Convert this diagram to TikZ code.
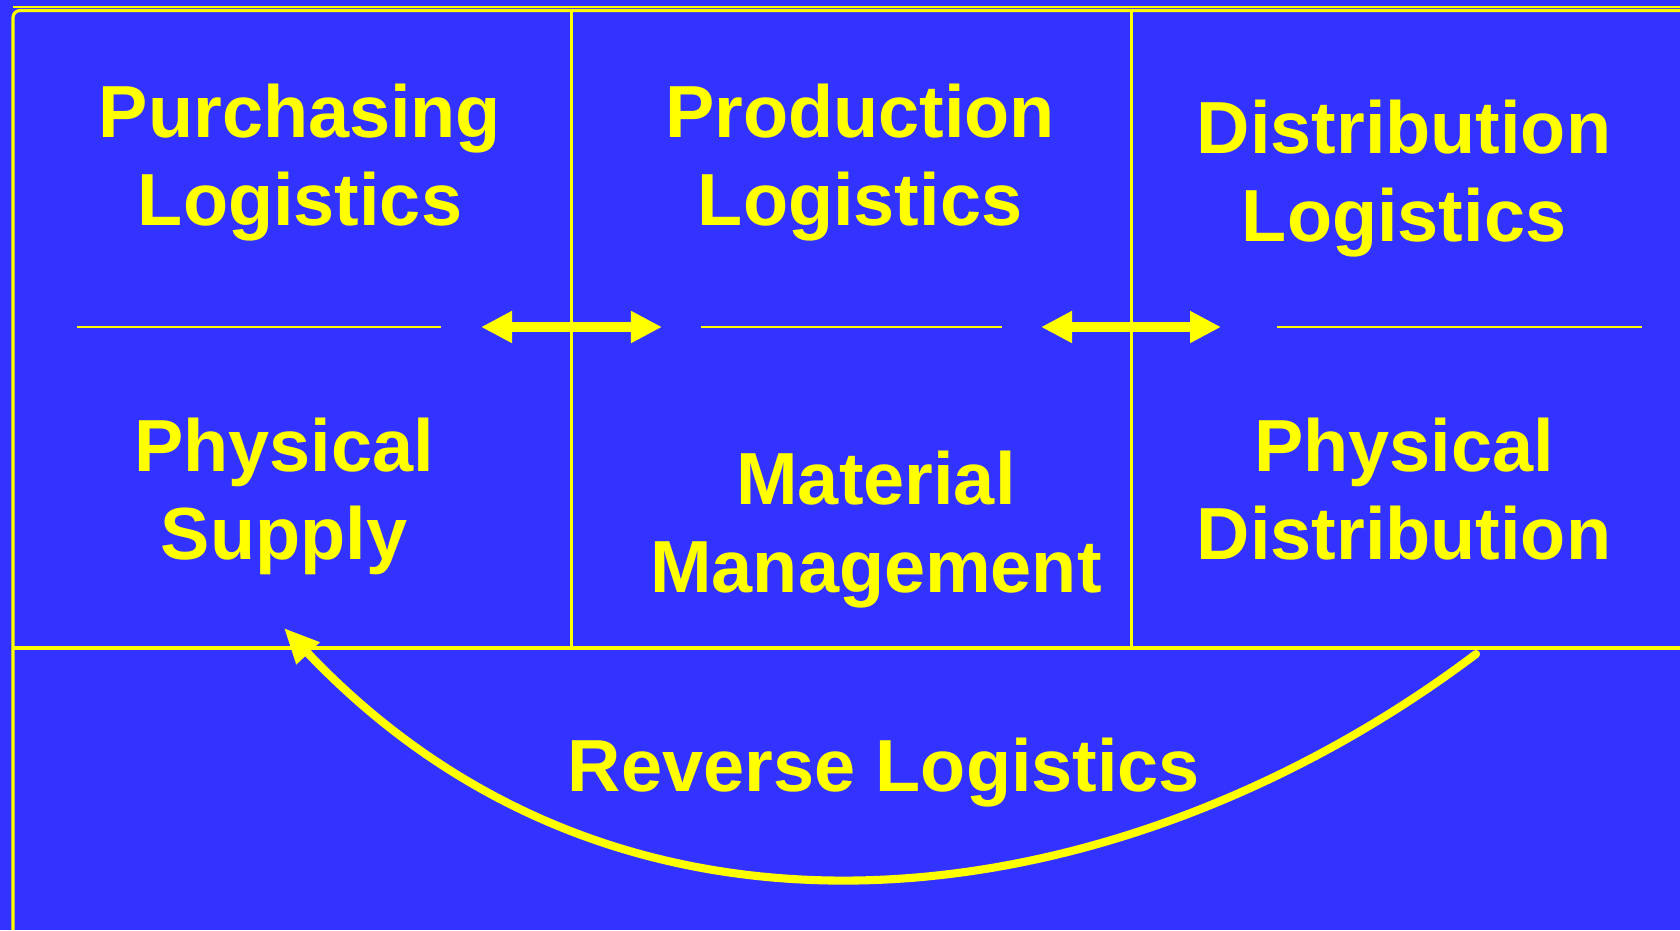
\documentclass[tikz,border=0pt]{standalone}
\usepackage{fontspec}
\setmainfont{Liberation Sans}
\usetikzlibrary{arrows.meta, positioning}
\definecolor{slideblue}{RGB}{51,51,255}
\definecolor{slideyellow}{RGB}{255,255,0}

\begin{document}
\begin{tikzpicture}[x=0.01cm, y=-0.01cm,
    title/.style={text=slideyellow, font=\bfseries\fontsize{21}{25}\selectfont,
        align=center, anchor=base, inner sep=0pt},
    rule/.style={draw=slideyellow, line width=0.9pt},
    thinrule/.style={draw=slideyellow, line width=0.7pt},
    flow/.style={draw=slideyellow, line width=3.1pt,
        {Triangle[length=3.1mm,width=3mm]}-{Triangle[length=3.1mm,width=3mm]}},
    back/.style={draw=slideyellow, line width=2.3pt, line cap=round,
        -{Triangle[length=3.5mm,width=3mm]}},
    ]

    \fill[slideblue] (0,0) rectangle (1680,930);
    \useasboundingbox (0,0) rectangle (1680,930);

    % frame
    \coordinate (TL) at (13,10.5);
    \coordinate (BL) at (13,930);
    \coordinate (TR) at (1680,10.5);
    \draw[rule, rounded corners=2pt] (BL) -- (TL) -- (TR);
    \draw[thinrule] (13,7) -- (1680,7);
    \draw[rule] (13,648) -- (1680,648);
    \foreach \x in {571.5, 1131.5}
        \draw[rule] (\x,10.5) -- (\x,648);

    % separators
    \coordinate (s1a) at (77,327);
    \coordinate (s1b) at (441,327);
    \coordinate (s2a) at (701,327);
    \coordinate (s2b) at (1002,327);
    \coordinate (s3a) at (1277,327);
    \coordinate (s3b) at (1642,327);
    \foreach \s in {s1, s2, s3}
        \draw[thinrule] (\s a) -- (\s b);

    % labels (anchored at the last baseline)
    \node[title] (purch) at (300,225) {Purchasing\\Logistics};
    \node[title] (prod) at (860,225) {Production\\Logistics};
    \node[title] (distr) at (1404,241) {Distribution\\Logistics};
    \node[title] (supply) at (284,559) {Physical\\Supply};
    \node[title] (matman) at (876,592) {Material\\Management};
    \node[title] (phys) at (1404,559) {Physical\\Distribution};
    \node[title] (rev) at (884,791) {Reverse Logistics};

    % flows
    \coordinate (f1a) at (481,327);
    \coordinate (f1b) at (662,327);
    \coordinate (f2a) at (1041,327);
    \coordinate (f2b) at (1221,327);
    \draw[flow] (f1a) -- (f1b);
    \draw[flow] (f2a) -- (f2b);

    \coordinate (rstart) at (1476,654);
    \coordinate (rend) at (284,628);
    \draw[back] (rstart) .. controls (1134,912) and (635,998) .. (rend);

\end{tikzpicture}
\end{document}
